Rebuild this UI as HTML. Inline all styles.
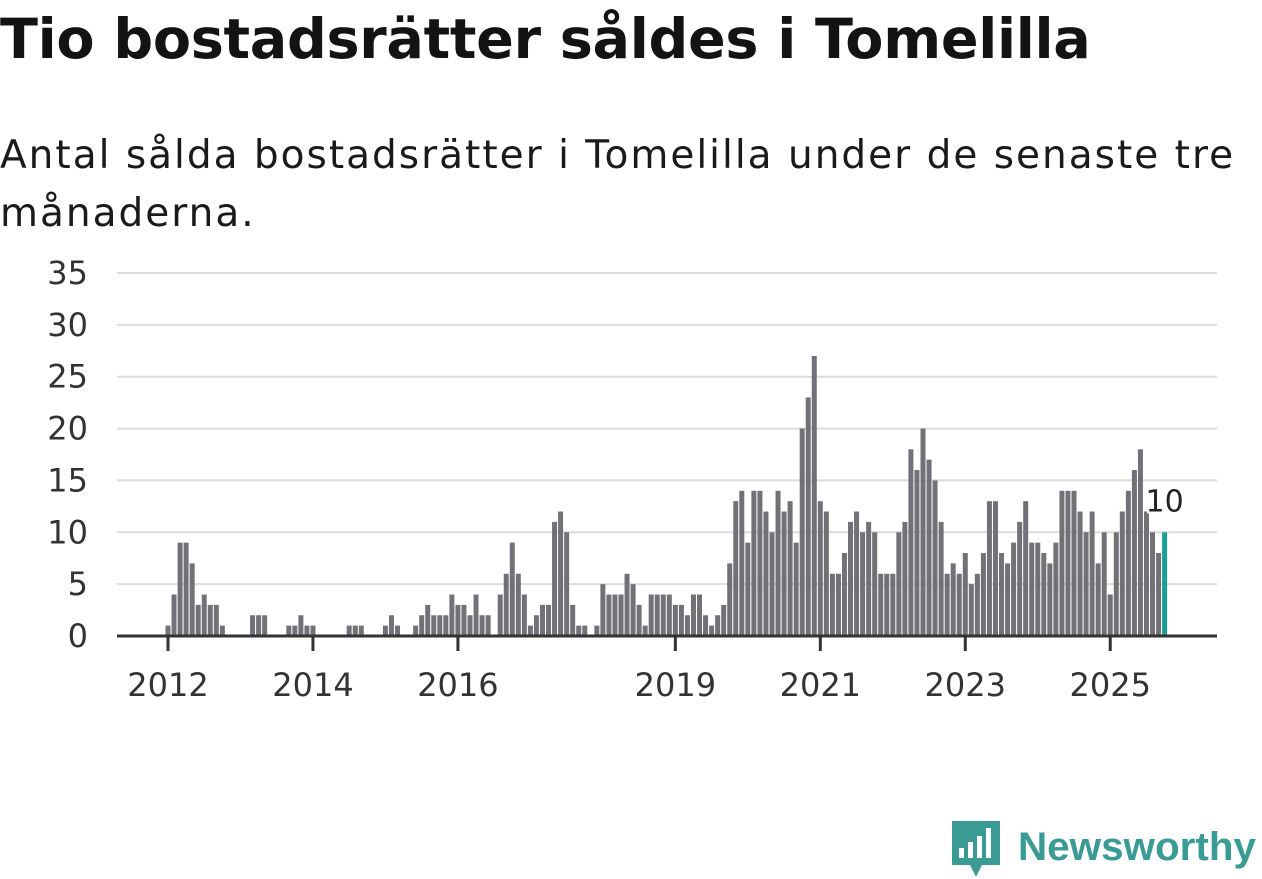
<!DOCTYPE html>
<html><head><meta charset="utf-8">
<style>
body{margin:0;width:1262px;height:879px;background:#fff;overflow:hidden;font-family:"DejaVu Sans","Liberation Sans",sans-serif;position:relative;color:#111}
#title{position:absolute;left:0;top:6px;font-size:55.6px;line-height:68px;font-weight:bold;color:#131313;margin:0;white-space:nowrap;letter-spacing:-0.3px}
#sub{position:absolute;left:0;top:127px;font-size:39px;line-height:58px;color:#1a1a1a;white-space:nowrap;letter-spacing:2px}
svg{position:absolute;left:0;top:0}
</style></head><body>
<h1 id="title">Tio bostadsrätter såldes i Tomelilla</h1>
<div id="sub">Antal sålda bostadsrätter i Tomelilla under de senaste tre<br>månaderna.</div>
<svg id="chart" width="1262" height="879"></svg>
<script>
const values=[1,4,9,9,7,3,4,3,3,1, 0,0,0,0, 2,2,2, 0,0,0, 1,1,2,1,1, 0,0,0,0,0, 1,1,1, 0,0,0, 1,2,1, 0,0,
1,2,3,2,2,2,4,3,3,2,4,2,2, 0,
4,6,9,6,4,1,2,3,3,11,12,10,3,1,1, 0,
1,5,4,4,4,6,5,3,1,4,4,4,4,3,3,2,
4,4,2,1,2,3,
7,13,14,9,14,14,12,10,14,12,13,9,20,23,27,13,12,6,6,8,11,12,10,11,10,6,6,6,10,11,18,16,20,17,15,11,
6,7,6,8,5,6,8,13,13,8,7,9,11,13,9,9,8,7,9,14,14,14,12,10,12,7,10,4,10,12,14,16,18,12,10,8,10];
const startYear=2012;
const yTicks=[0,5,10,15,20,25,30,35];
const xTickYears=[2012,2014,2016,2019,2021,2023,2025];
const NS="http://www.w3.org/2000/svg";
const svg=document.getElementById('chart');
const y=v=>636-v*(363/35);
const x=m=>168+m*6.04;
function el(t,a){const e=document.createElementNS(NS,t);for(const k in a)e.setAttribute(k,a[k]);svg.appendChild(e);return e;}
yTicks.forEach(t=>{
 if(t>0){const g=el('line',{x1:117,x2:1217,y1:y(t),y2:y(t),stroke:'#dcdcdc','stroke-width':2});
 
 }
 const l=el('text',{x:88,y:y(t)+11,'text-anchor':'end','font-size':32,fill:'#333'});
 l.textContent=t;
 
 
});
values.forEach((v,i)=>{
 if(v<=0)return;
 const last=i===values.length-1;
 const r=el('rect',{x:x(i)-2.5,y:y(v),width:5,height:y(0)-y(v),fill:last?'#1a9e96':'#727178'});
 
 
});
const ax=el('line',{x1:117,x2:1217,y1:636,y2:636,stroke:'#333','stroke-width':3});


xTickYears.forEach(yr=>{
 const m=(yr-startYear)*12;
 const tk=el('line',{x1:x(m),x2:x(m),y1:636,y2:651,stroke:'#333','stroke-width':3});
 
 
 const t=el('text',{x:x(m),y:696,'text-anchor':'middle','font-size':32,fill:'#333'});
 t.textContent=yr;
 
 
});
const li=values.length-1;
const an=el('text',{x:x(li)+0,y:y(values[li])-21,'text-anchor':'middle','font-size':30,fill:'#222',stroke:'#fff','stroke-width':4,'paint-order':'stroke'});
an.textContent=values[li];


</script>
<svg width="1262" height="879" style="position:absolute;left:0;top:0">
<path d="M952 821 h48 v44 h-18 l-6 12 l-6 -12 h-18 z" fill="#3a9a94"/>
<rect x="959" y="848" width="5" height="10" fill="#fff"/>
<rect x="968" y="842" width="5" height="16" fill="#fff"/>
<rect x="977" y="836" width="5" height="22" fill="#fff"/>
<rect x="986" y="828" width="5" height="30" fill="#fff"/>
<text x="1018" y="860" font-size="40" font-weight="bold" fill="#3a9a94" textLength="238" lengthAdjust="spacingAndGlyphs" font-family="Liberation Sans, sans-serif">Newsworthy</text>
</svg>
</body></html>
